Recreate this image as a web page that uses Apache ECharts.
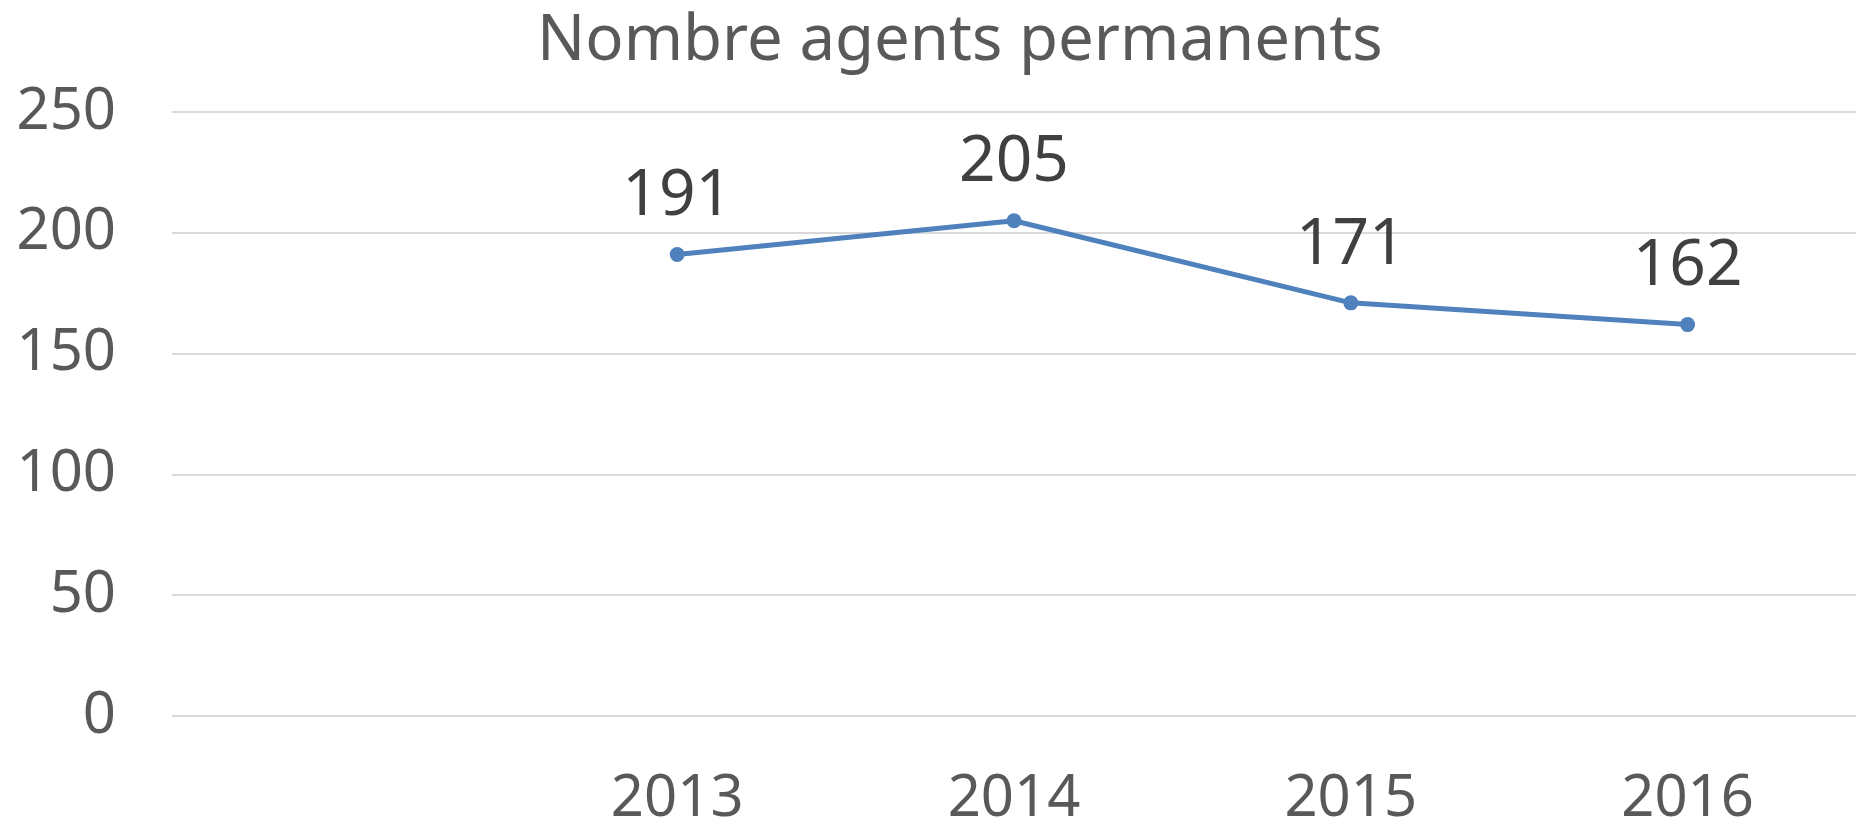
<!DOCTYPE html>
<html>
<head>
<meta charset="utf-8">
<script src="https://cdn.jsdelivr.net/npm/echarts@6/dist/echarts.min.js"></script>
<style>
  html, body { margin: 0; padding: 0; background: #fff; }
  #chart { width: 1856px; height: 820px; }
</style>
</head>
<body>
<div id="chart"></div>
<script>
// first category is left empty, as in the original sheet
var years = ['', '2013', '2014', '2015', '2016'];
var agents = ['-', 191, 205, 171, 162];
var yTicks = [0, 50, 100, 150, 200, 250];

var chart = echarts.init(document.getElementById('chart'));

var option = {
    backgroundColor: '#ffffff',
    textStyle: { fontFamily: 'Noto Sans' },
    title: {
        text: 'Nombre agents permanents',
        left: 532,
        top: 5,
        textStyle: {
            fontFamily: 'Noto Sans',
            fontSize: 63.5,
            fontWeight: 'normal',
            color: '#595959'
        }
    },
    grid: {
        left: 172,
        right: 0,
        top: 112,
        bottom: 104,
        outerBoundsMode: 'none'
    },
    xAxis: {
        type: 'category',
        data: years,
        boundaryGap: true,
        axisLine: { show: false },
        axisTick: { show: false },
        axisLabel: {
            fontSize: 58,
            color: '#595959',
            margin: 54
        }
    },
    yAxis: {
        type: 'value',
        min: yTicks[0],
        max: yTicks[yTicks.length - 1],
        interval: 50,
        axisLine: { show: false },
        axisTick: { show: false },
        axisLabel: {
            fontSize: 58,
            color: '#595959',
            margin: 56
        },
        splitLine: {
            lineStyle: { color: '#d9d9d9', width: 2 }
        }
    },
    series: [
        {
            name: 'Nombre agents permanents',
            type: 'line',
            data: agents,
            symbol: 'circle',
            symbolSize: 15,
            lineStyle: { color: '#4f81bd', width: 5 },
            itemStyle: { color: '#4f81bd' },
            label: {
                show: true,
                position: 'top',
                distance: 18,
                fontSize: 64,
                color: '#404040'
            }
        }
    ]
};

chart.setOption(option);
</script>
</body>
</html>
